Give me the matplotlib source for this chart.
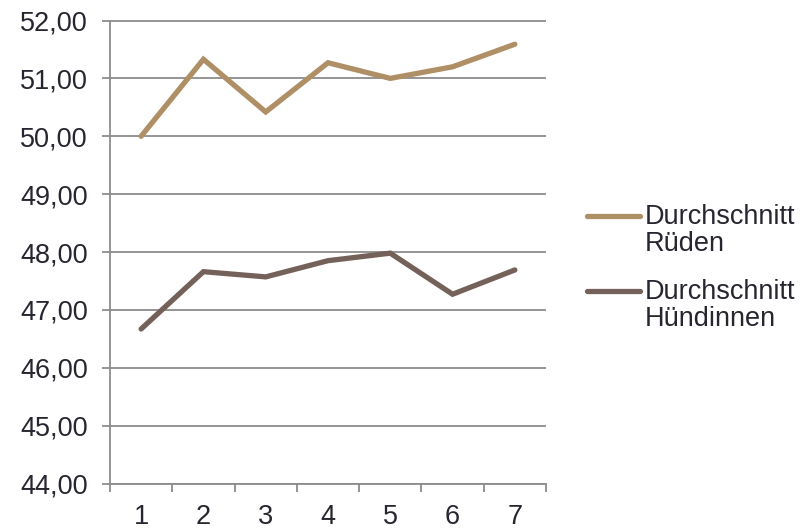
import numpy as np
import matplotlib.pyplot as plt
from matplotlib.legend_handler import HandlerLine2D
from matplotlib.ticker import FuncFormatter

plt.rcParams['font.family'] = ['Liberation Sans', 'DejaVu Sans']

# Mittelwerte je Messung
messung = [1, 2, 3, 4, 5, 6, 7]
rueden = [50.00, 51.33, 50.42, 51.27, 51.00, 51.20, 51.59]
huendinnen = [46.67, 47.66, 47.57, 47.85, 47.98, 47.27, 47.69]

text_col = '#262630'
grid_col = '#8c8c8c'
fs = 19.5


class TopLineHandler(HandlerLine2D):
    # Legendenlinie auf Höhe der ersten Textzeile
    def create_artists(self, legend, orig_handle, xdescent, ydescent, width,
                       height, fontsize, trans):
        arts = super().create_artists(legend, orig_handle, xdescent, ydescent,
                                      width, height, fontsize, trans)
        for a in arts:
            a.set_ydata(np.asarray(a.get_ydata()) + 0.55 * fontsize)
        return arts


fig = plt.figure(figsize=(8.11, 5.29), dpi=100)
ax = fig.add_axes([110/811, 1 - 483.5/529, 436/811, 463/529])

ax.plot(messung, rueden, color='#AF8F65', lw=3.8, solid_capstyle='round',
        solid_joinstyle='miter', label='Durchschnitt\nRüden', zorder=3)
ax.plot(messung, huendinnen, color='#74625A', lw=3.8, solid_capstyle='round',
        solid_joinstyle='miter', label='Durchschnitt\nHündinnen', zorder=3)

ax.set_ylim(44, 52)
ax.set_xlim(0.5, 7.5)
ax.set_yticks(range(44, 53))
ax.yaxis.set_major_formatter(FuncFormatter(lambda v, p: f'{v:.2f}'.replace('.', ',')))
ax.grid(axis='y', color=grid_col, lw=1.3)
ax.set_axisbelow(True)

# Kategorien: Beschriftung mittig, Teilstriche an den Grenzen
ax.set_xticks(messung)
ax.set_xticks([i + 0.5 for i in range(0, 8)], minor=True)
ax.tick_params(axis='x', which='major', length=0, pad=15, labelsize=fs, labelcolor=text_col)
ax.tick_params(axis='x', which='minor', length=6, width=1.3, color=grid_col, direction='out')
ax.tick_params(axis='y', length=6, width=1.3, color=grid_col, pad=10, labelsize=fs,
               labelcolor=text_col)

for s in ['top', 'right']:
    ax.spines[s].set_visible(False)
for s in ['left', 'bottom']:
    ax.spines[s].set_color(grid_col)
    ax.spines[s].set_linewidth(1.3)

leg = fig.legend(loc='upper left', bbox_to_anchor=(587/811, 1 - 204/529),
                 frameon=False, fontsize=fs, handlelength=1.96, handletextpad=0.18,
                 labelspacing=0.8, borderpad=0, borderaxespad=0,
                 handler_map={plt.Line2D: TopLineHandler()})
for t in leg.get_texts():
    t.set_color(text_col)
    t.set_linespacing(1.05)

fig.savefig('out.png', dpi=100)
